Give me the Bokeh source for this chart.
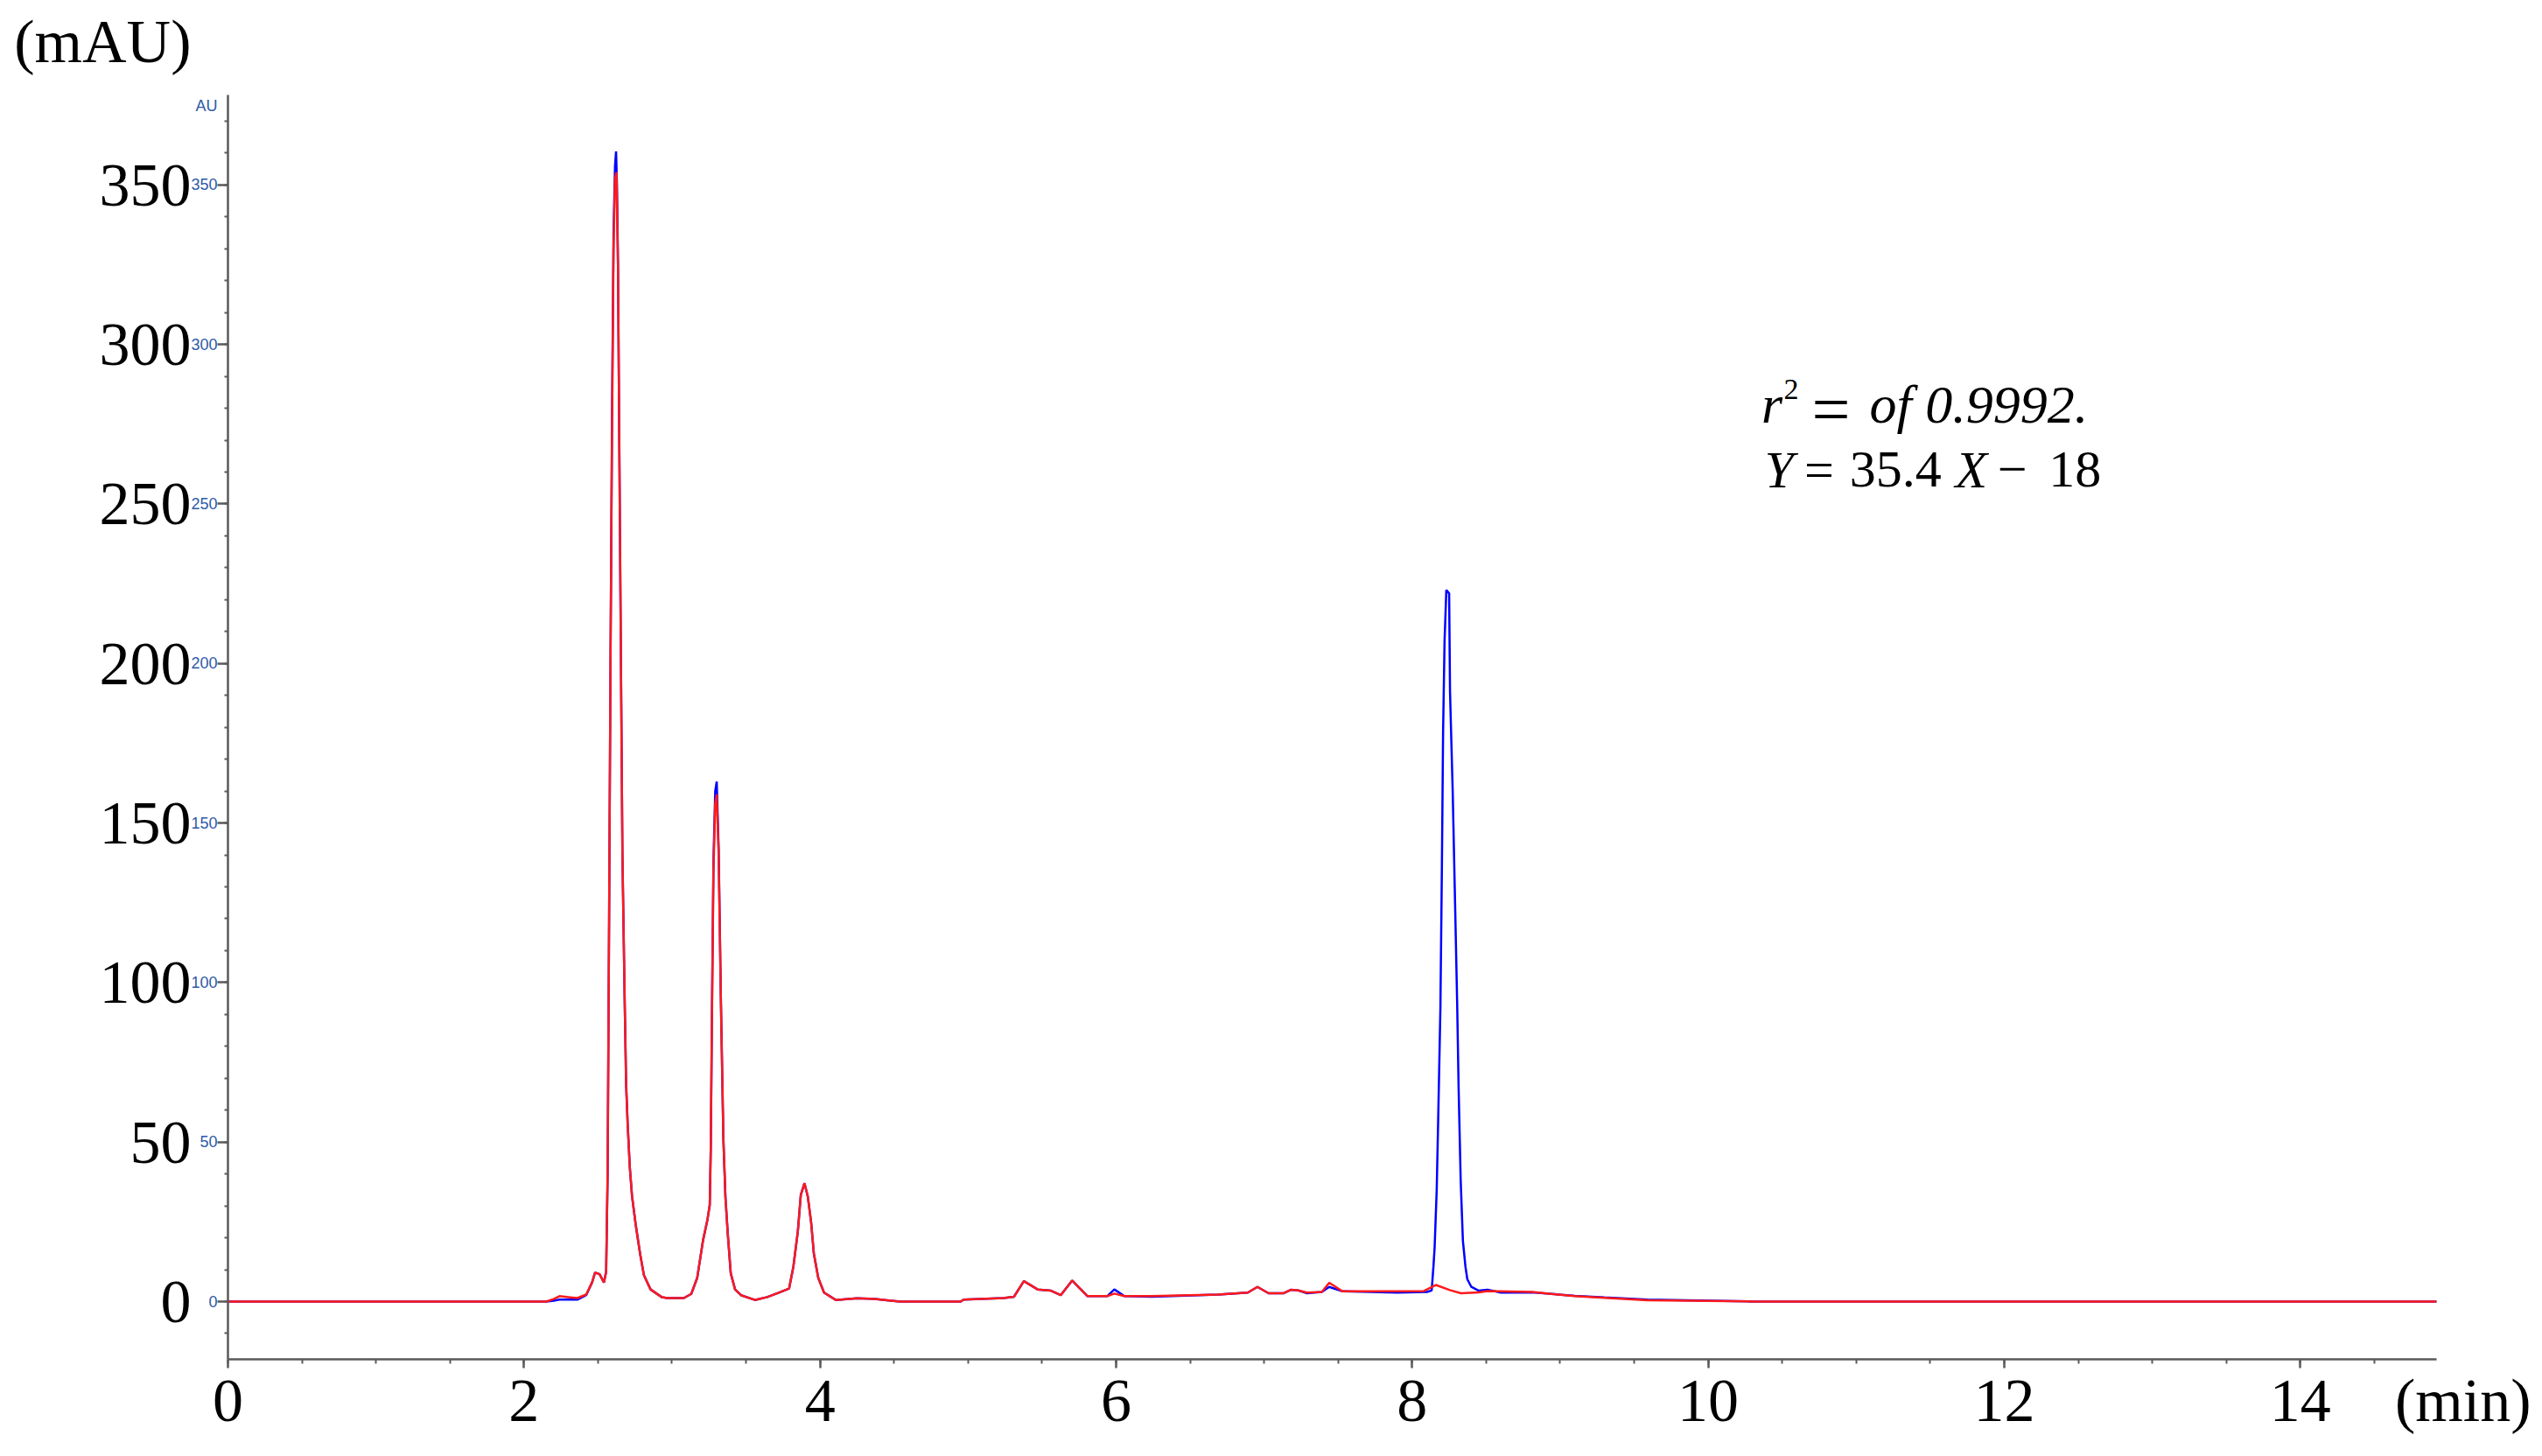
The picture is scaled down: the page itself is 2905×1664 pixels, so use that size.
from bokeh.plotting import figure
from bokeh.models import Range1d, FixedTicker, LinearAxis
from bokeh.core.properties import value
from bokeh.embed import file_html
from bokeh.resources import INLINE

# ---- data (retention time in min, absorbance in mAU) ----
time_red = [0.00, 2.15, 2.20, 2.24, 2.30, 2.36, 2.42, 2.46, 2.48, 2.51, 2.54, 2.555, 2.565,
            2.575, 2.585, 2.595, 2.605, 2.615, 2.625, 2.635, 2.645, 2.655, 2.665, 2.68, 2.69,
            2.70, 2.715, 2.73, 2.755, 2.785, 2.81, 2.855, 2.93, 2.97, 3.08, 3.13, 3.17, 3.21,
            3.24, 3.255, 3.262, 3.27, 3.28, 3.292, 3.302, 3.315, 3.33, 3.347, 3.361, 3.377,
            3.397, 3.426, 3.466, 3.56, 3.643, 3.721, 3.791, 3.82, 3.85, 3.87, 3.895, 3.917,
            3.94, 3.958, 3.988, 4.027, 4.106, 4.25, 4.37, 4.54, 4.95, 4.97, 5.24, 5.31, 5.377,
            5.47, 5.56, 5.626, 5.703, 5.807, 5.94, 5.988, 6.056, 6.24, 6.69, 6.89, 6.955, 7.03,
            7.13, 7.18, 7.23, 7.29, 7.39, 7.44, 7.53, 8.08, 8.16, 8.255, 8.33, 8.45, 8.51, 8.81,
            9.10, 9.30, 9.59, 10.27, 10.28, 14.92]
mau_red = [0.0, 0.0, 0.8, 1.7, 1.4, 1.1, 2.2, 6.0, 9.1, 8.6, 6.0, 9.3, 40.0,
           120.0, 205.0, 275.0, 330.0, 352.0, 354.0, 325.0, 262.0, 200.0, 140.0, 95.0, 68.0,
           56.0, 42.0, 33.0, 24.0, 14.8, 8.3, 3.8, 1.4, 1.1, 1.1, 2.4, 7.4, 19.3,
           25.8, 30.3, 48.5, 90.0, 135.0, 156.0, 159.0, 140.0, 95.0, 51.0, 32.6, 21.0,
           8.8, 3.8, 2.0, 0.5, 1.4, 2.8, 4.1, 11.0, 22.0, 33.4, 37.1, 33.0,
           24.7, 15.1, 7.4, 2.8, 0.5, 1.0, 0.8, 0.0, 0.0, 0.6, 1.1, 1.5, 6.4,
           3.8, 3.4, 2.0, 6.6, 1.7, 1.7, 2.5, 1.7, 1.7, 2.2, 2.8, 4.6, 2.6,
           2.6, 3.7, 3.5, 2.8, 3.0, 5.9, 3.2, 3.3, 5.2, 3.6, 2.6, 2.9, 3.3, 3.0,
           1.7, 1.2, 0.4, 0.1, 0.0, 0.0]

time_blue = [0.00, 2.15, 2.20, 2.24, 2.30, 2.36, 2.42, 2.46, 2.48, 2.51, 2.54, 2.555, 2.565,
             2.575, 2.585, 2.595, 2.605, 2.615, 2.622, 2.628, 2.635, 2.645, 2.655, 2.665, 2.68,
             2.69, 2.70, 2.715, 2.73, 2.755, 2.785, 2.81, 2.855, 2.93, 2.97, 3.08, 3.13, 3.17,
             3.21, 3.24, 3.255, 3.262, 3.27, 3.28, 3.292, 3.302, 3.315, 3.33, 3.347, 3.361,
             3.377, 3.397, 3.426, 3.466, 3.56, 3.643, 3.721, 3.791, 3.82, 3.85, 3.87, 3.895,
             3.917, 3.94, 3.958, 3.988, 4.027, 4.106, 4.25, 4.37, 4.54, 4.95, 4.97, 5.24, 5.31,
             5.377, 5.47, 5.56, 5.626, 5.703, 5.807, 5.94, 5.988, 6.056, 6.24, 6.69, 6.89,
             6.955, 7.03, 7.13, 7.18, 7.23, 7.29, 7.39, 7.44, 7.53, 7.90, 8.10, 8.132, 8.144,
             8.152, 8.166, 8.176, 8.191, 8.201, 8.209, 8.219, 8.231, 8.25, 8.256, 8.274, 8.29,
             8.304, 8.314, 8.328, 8.343, 8.36, 8.373, 8.40, 8.45, 8.51, 8.60, 8.81, 9.10, 9.30,
             9.59, 10.27, 10.28, 14.92]
mau_blue = [0.0, 0.0, 0.3, 0.6, 0.6, 0.6, 2.0, 6.0, 9.1, 8.6, 6.0, 9.3, 40.0,
            120.0, 205.0, 278.0, 335.0, 356.0, 360.5, 350.0, 325.0, 262.0, 200.0, 140.0, 95.0,
            68.0, 56.0, 42.0, 33.0, 24.0, 14.8, 8.3, 3.8, 1.4, 1.1, 1.1, 2.4, 7.4,
            19.3, 25.8, 30.3, 48.5, 92.0, 138.0, 160.0, 163.0, 142.0, 95.0, 51.0, 32.6,
            21.0, 8.8, 3.8, 2.0, 0.5, 1.4, 2.8, 4.1, 11.0, 22.0, 33.4, 37.1,
            33.0, 24.7, 15.1, 7.4, 2.8, 0.5, 1.0, 0.8, 0.0, 0.0, 0.6, 1.1, 1.5,
            6.4, 3.8, 3.4, 2.0, 6.6, 1.7, 1.7, 3.8, 1.7, 1.5, 2.2, 2.8,
            4.6, 2.6, 2.6, 3.7, 3.5, 2.6, 3.0, 4.6, 3.2, 2.8, 3.0, 3.5, 11.0,
            17.0, 35.0, 57.0, 92.0, 136.0, 178.0, 207.0, 223.0, 222.0, 191.0, 160.0, 125.0,
            94.0, 67.0, 38.0, 19.0, 11.0, 7.0, 4.6, 3.4, 3.7, 2.8, 2.9, 1.8, 1.3,
            0.6, 0.1, 0.0, 0.0]

x_major_ticks = [0, 2, 4, 6, 8, 10, 12, 14]
x_minor_ticks = [0.5 * i for i in range(30)]
y_major_ticks = [0, 50, 100, 150, 200, 250, 300, 350]
y_minor_ticks = [10 * i for i in range(-1, 38)]
x_unit_label = {15.1: "(min)"}     # unit label placed in the tick-label row
y_unit_label = {395.0: "(mAU)"}    # unit label placed above the axis
y_inst_label = {374.9: "AU"}       # instrument's own (clipped) unit label

X_AXIS_END = 14.92
Y_AXIS_START, Y_AXIS_END = -18.1, 378.2
X_VIEW_END, Y_VIEW_END = 15.5, 399.6

SERIF = "Liberation Serif"
AXIS_GREY = "#5a5a5a"
SMALL_BLUE = "#2e5aa8"

p = figure(width=2897, height=1656,
           x_range=Range1d(0, X_VIEW_END), y_range=Range1d(Y_AXIS_START, Y_VIEW_END),
           output_backend="svg", toolbar_location=None,
           min_border_left=260, min_border_right=15,
           min_border_top=30, min_border_bottom=103)
p.title = None
p.outline_line_color = None
p.xgrid.visible = False
p.ygrid.visible = False
p.background_fill_color = "white"
p.border_fill_color = "white"

# ---- x axis: line + ticks (inner, labels not drawn) ----
xa = p.xaxis[0]
xa.bounds = (0, X_AXIS_END)
xa.ticker = FixedTicker(ticks=x_major_ticks, minor_ticks=x_minor_ticks)
xa.axis_line_color = AXIS_GREY
xa.axis_line_width = 2.5
xa.major_tick_line_color = AXIS_GREY
xa.major_tick_line_width = 2.5
xa.major_tick_out = 10
xa.major_tick_in = 0
xa.minor_tick_line_color = AXIS_GREY
xa.minor_tick_line_width = 2
xa.minor_tick_out = 5
xa.minor_tick_in = 0
xa.major_label_text_font_size = "1px"
xa.major_label_text_color = None
xa.major_label_standoff = 0

# ---- x axis labels (outer) ----
xb = LinearAxis(ticker=FixedTicker(ticks=x_major_ticks + list(x_unit_label), minor_ticks=[]))
xb.axis_line_color = None
xb.major_tick_line_color = None
xb.minor_tick_line_color = None
xb.major_tick_out = 0
xb.major_tick_in = 0
xb.major_label_text_font = SERIF
xb.major_label_text_font_size = "70px"
xb.major_label_text_color = "black"
xb.major_label_standoff = -2
xb.major_label_overrides = x_unit_label
p.add_layout(xb, "below")

# ---- y axis: line + ticks (inner, labels not drawn) ----
ya = p.yaxis[0]
ya.bounds = (Y_AXIS_START, Y_AXIS_END)
ya.ticker = FixedTicker(ticks=y_major_ticks, minor_ticks=y_minor_ticks)
ya.axis_line_color = AXIS_GREY
ya.axis_line_width = 2.5
ya.major_tick_line_color = AXIS_GREY
ya.major_tick_line_width = 2.5
ya.major_tick_out = 12
ya.major_tick_in = 0
ya.minor_tick_line_color = AXIS_GREY
ya.minor_tick_line_width = 2
ya.minor_tick_out = 4
ya.minor_tick_in = 0
ya.major_label_text_font_size = "1px"
ya.major_label_text_color = None
ya.major_label_standoff = 0

# ---- y axis: instrument's small blue labels ----
yb = LinearAxis(ticker=FixedTicker(ticks=y_major_ticks + list(y_inst_label), minor_ticks=[]))
yb.axis_line_color = None
yb.major_tick_line_color = None
yb.minor_tick_line_color = None
yb.major_tick_out = 0
yb.major_tick_in = 0
yb.major_label_text_font = "Liberation Sans"
yb.major_label_text_font_size = "18px"
yb.major_label_text_color = SMALL_BLUE
yb.major_label_standoff = 0
yb.major_label_overrides = y_inst_label
p.add_layout(yb, "left")

# ---- y axis: large serif labels + unit ----
yc = LinearAxis(ticker=FixedTicker(ticks=y_major_ticks + list(y_unit_label), minor_ticks=[]))
yc.axis_line_color = None
yc.major_tick_line_color = None
yc.minor_tick_line_color = None
yc.major_tick_out = 0
yc.major_tick_in = 0
yc.major_label_text_font = SERIF
yc.major_label_text_font_size = "70px"
yc.major_label_text_color = "black"
yc.major_label_standoff = -3
yc.major_label_overrides = y_unit_label
p.add_layout(yc, "left")

# traces
p.line(time_blue, mau_blue, line_color="#0000ff", line_width=2.5)
p.line(time_red, mau_red, line_color="#ff1a1a", line_width=2.5)

# regression annotation (mixed italic / upright pieces)
f = value(SERIF)
p.text(x=[10.36], y=[281.3], text=["r"], text_font=f, text_font_size="62px",
       text_font_style="italic", text_color="black", text_baseline="alphabetic")
p.text(x=[10.51], y=[286.0], text=["2"], text_font=f, text_font_size="34px",
       text_color="black", text_baseline="alphabetic")
p.text(x=[10.70], y=[279.7], text=["="], text_font=f, text_font_size="78px",
       text_color="black", text_baseline="alphabetic")
p.text(x=[11.09], y=[281.3], text=["of 0.9992."], text_font=f, text_font_size="62px",
       text_font_style="italic", text_color="black", text_baseline="alphabetic")
p.text(x=[10.38, 11.67], y=[260.7, 260.7], text=["Y", "X"], text_font=f,
       text_font_size="60px", text_font_style="italic", text_color="black",
       text_baseline="alphabetic")
p.text(x=[10.65, 10.955, 11.955, 12.30], y=[260.7] * 4, text=["=", "35.4", "\u2212", "18"],
       text_font=f, text_font_size="60px", text_color="black", text_baseline="alphabetic")

open("out.html", "w").write(file_html(p, INLINE))
